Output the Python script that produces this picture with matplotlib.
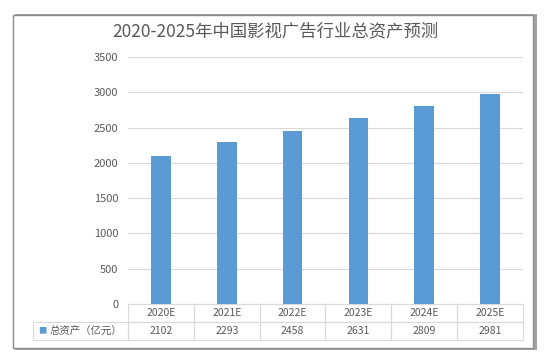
import matplotlib.pyplot as plt
from matplotlib.patches import Rectangle

plt.rcParams['font.family'] = ['Noto Sans CJK SC', 'DejaVu Sans']

years = ['2020E', '2021E', '2022E', '2023E', '2024E', '2025E']
assets = [2102, 2293, 2458, 2631, 2809, 2981]
series_name = '总资产（亿元）'
title = '2020-2025年中国影视广告行业总资产预测'

bar_color = '#5B9BD5'
text_color = '#595959'
line_color = '#D9D9D9'

fig = plt.figure(figsize=(5.5, 3.63), dpi=100)

# 图表外框（带阴影）
fig.patches.append(Rectangle((15 / 550, 1 - 350 / 363), 522 / 550, 336 / 363,
                             transform=fig.transFigure, facecolor='#a0a0a0',
                             edgecolor='none', zorder=0))
fig.patches.append(Rectangle((13 / 550, 1 - 348 / 363), 520 / 550, 333 / 363,
                             transform=fig.transFigure, facecolor='white',
                             edgecolor='#8c8c8c', linewidth=1.0, zorder=1))

ax = fig.add_axes([128 / 550, 1 - 304 / 363, 395 / 550, 247 / 363])
ax.set_zorder(2)
ax.patch.set_alpha(0)

x = range(len(years))
ax.bar(x, assets, width=0.3, color=bar_color, zorder=3)
ax.set_xlim(-0.5, len(years) - 0.5)
ax.set_ylim(0, 3500)
ax.set_yticks(range(0, 3501, 500))
ax.set_xticks([])
ax.grid(axis='y', color=line_color, linewidth=0.8, zorder=0)
ax.tick_params(axis='y', length=0, labelsize=8, labelcolor=text_color, pad=7)
for s in ax.spines.values():
    s.set_visible(False)

fig.text(0.5, 1 - 31 / 363, title, ha='center', va='center',
         fontsize=12.5, color=text_color)

# 数据表
lw = 95 / 395
cell_text = [[''] + years, [''] + [str(v) for v in assets]]
tbl = ax.table(cellText=cell_text, colWidths=[lw] + [1 / 6] * 6,
               cellLoc='center', bbox=[-lw, -36 / 247, 1 + lw, 36 / 247])
tbl.auto_set_font_size(False)
tbl.set_fontsize(7.5)
for (r, c), cell in tbl.get_celld().items():
    cell.set_edgecolor(line_color)
    cell.set_linewidth(0.8)
    cell.get_text().set_color(text_color)
    cell.set_facecolor('none')
    if r == 0 and c == 0:
        cell.visible_edges = 'open'

ax.text(-lw + 5 / 395, -27 / 247, '■', transform=ax.transAxes, ha='left',
        va='center', fontsize=6, color=bar_color)
ax.text(-6 / 395, -27 / 247, series_name, transform=ax.transAxes, ha='right',
        va='center', fontsize=7.5, color=text_color)

fig.savefig('out.png', dpi=100)
